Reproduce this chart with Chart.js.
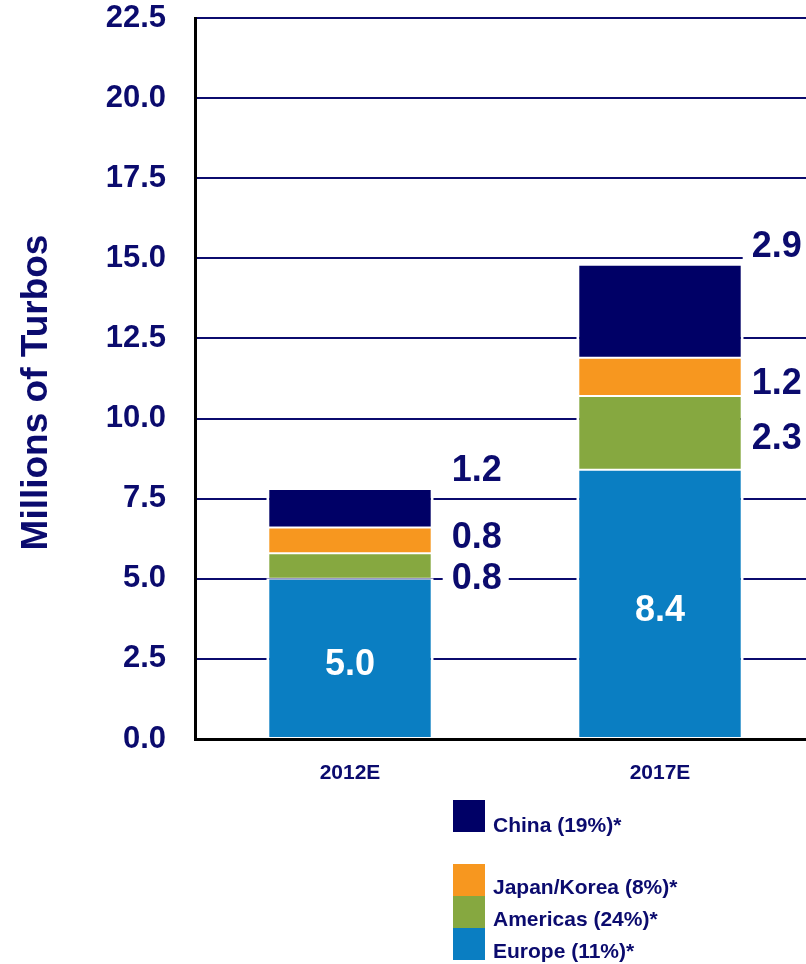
<!DOCTYPE html>
<html>
<head>
<meta charset="utf-8">
<script src="https://cdn.jsdelivr.net/npm/chart.js@4/dist/chart.umd.min.js"></script>
<style>
  html, body { margin: 0; padding: 0; background: #fff; overflow: hidden; }
  #wrap { position: relative; width: 815px; height: 964px; }
</style>
</head>
<body>
<div id="wrap"><canvas id="turbo-chart"></canvas></div>
<script>
var years = ['2012E', '2017E'];
var regions = ['Europe', 'Americas', 'Japan/Korea', 'China'];
var growthPct = [11, 24, 8, 19];

// millions of turbos per region, stacked bottom to top
var europe = [5.0, 8.4];
var americas = [0.8, 2.3];
var japanKorea = [0.8, 1.2];
var china = [1.2, 2.9];

var yMin = 0;
var yMax = 22.5;
var yStep = 2.5;
var yTitle = 'Millions of Turbos';

var NAVY = '#0b0b6e';
var FONT = '"Liberation Sans", Arial, sans-serif';
var regionColors = ['#0a7ec2', '#86a840', '#f7971f', '#000066'];

Chart.defaults.font.family = FONT;
Chart.defaults.font.weight = 'bold';

// side labels are pushed up/down a little so they don't collide
var labelNudge = [
	[4, 4],
	[10, 3],
	[-5, 4],
	[-40, -67]
];
var labelGap = [18, 8];

var valueLabels = {
	id: 'valueLabels',
	afterDatasetsDraw: function(chart) {
		var ctx = chart.ctx;
		ctx.save();
		ctx.font = 'bold 36px ' + FONT;
		ctx.textBaseline = 'alphabetic';
		chart.data.datasets.forEach(function(ds, i) {
			var meta = chart.getDatasetMeta(i);
			meta.data.forEach(function(bar, j) {
				var text = ds.data[j].toFixed(1);
				var cy = (bar.y + bar.base) / 2 + labelNudge[i][j];
				if (i === 0) {
					ctx.fillStyle = '#fff';
					ctx.textAlign = 'center';
					ctx.fillText(text, bar.x, cy + 13);
					return;
				}
				var left = bar.x + bar.width / 2 + labelGap[j];
				var w = ctx.measureText(text).width;
				ctx.fillStyle = '#fff';
				ctx.fillRect(left - 9, cy - 19, w + 16, 38);
				ctx.fillStyle = NAVY;
				ctx.textAlign = 'left';
				ctx.fillText(text, left, cy + 13);
			});
		});
		ctx.restore();
	}
};

// rotated axis title, sitting a bit below the middle of the plot
var axisTitle = {
	id: 'axisTitle',
	afterDraw: function(chart, args, opts) {
		var ctx = chart.ctx;
		var area = chart.chartArea;
		ctx.save();
		ctx.translate(opts.x, (area.top + area.bottom) / 2 + opts.shift);
		ctx.rotate(-Math.PI / 2);
		ctx.font = 'bold 37px ' + FONT;
		ctx.fillStyle = NAVY;
		ctx.textAlign = 'center';
		ctx.textBaseline = 'middle';
		ctx.fillText(opts.text, 0, 0);
		ctx.restore();
	}
};

// legend listed top-down (China first), with a gap under the first entry
var regionLegend = {
	id: 'regionLegend',
	afterDraw: function(chart, args, opts) {
		var ctx = chart.ctx;
		var sets = chart.data.datasets;
		ctx.save();
		ctx.font = 'bold 21px ' + FONT;
		ctx.textAlign = 'left';
		ctx.textBaseline = 'alphabetic';
		for (var k = 0; k < sets.length; k++) {
			var ds = sets[sets.length - 1 - k];
			var top = opts.top + k * opts.box + (k > 0 ? opts.gap : 0);
			ctx.fillStyle = ds.backgroundColor;
			ctx.fillRect(opts.x, top, opts.box, opts.box);
			ctx.fillStyle = NAVY;
			ctx.fillText(ds.label, opts.x + 40, top + opts.box - (k > 0 ? 2 : 0));
		}
		ctx.restore();
	}
};

var seriesValues = [europe, americas, japanKorea, china];
var datasets = regions.map(function(name, i) {
	return {
		label: name + ' (' + growthPct[i] + '%)*',
		data: seriesValues[i],
		backgroundColor: regionColors[i],
		borderColor: '#fff',
		borderWidth: { top: 1, bottom: 1, left: 3, right: 3 },
		borderSkipped: false,
		categoryPercentage: 1,
		barPercentage: 0.54
	};
});

new Chart(document.getElementById('turbo-chart'), {
	type: 'bar',
	data: { labels: years, datasets: datasets },
	options: {
		responsive: true,
		maintainAspectRatio: false,
		animation: false,
		layout: { padding: { top: 18, left: 0, right: 0, bottom: 175 } },
		plugins: {
			legend: { display: false },
			tooltip: { enabled: false },
			axisTitle: { text: yTitle, x: 37, shift: 14 },
			regionLegend: { x: 453, top: 800, box: 32, gap: 32 }
		},
		scales: {
			x: {
				stacked: true,
				grid: { display: false },
				border: { display: true, color: '#000', width: 3, z: 1 },
				ticks: { color: NAVY, font: { size: 21, weight: 'bold' }, padding: 14 },
				afterFit: function(s) { s.height = 50; }
			},
			y: {
				stacked: true,
				min: yMin,
				max: yMax,
				grid: { color: NAVY, lineWidth: 2, drawTicks: false },
				border: { display: true, color: '#000', width: 3, z: 1 },
				ticks: {
					stepSize: yStep,
					color: NAVY,
					padding: 29,
					font: { size: 31, weight: 'bold' },
					callback: function(v) { return v.toFixed(1); }
				},
				afterFit: function(s) {
					s.width = 195;
					s.paddingTop = 0;
					s.paddingBottom = 0;
				}
			}
		}
	},
	plugins: [valueLabels, axisTitle, regionLegend]
});
</script>
</body>
</html>
